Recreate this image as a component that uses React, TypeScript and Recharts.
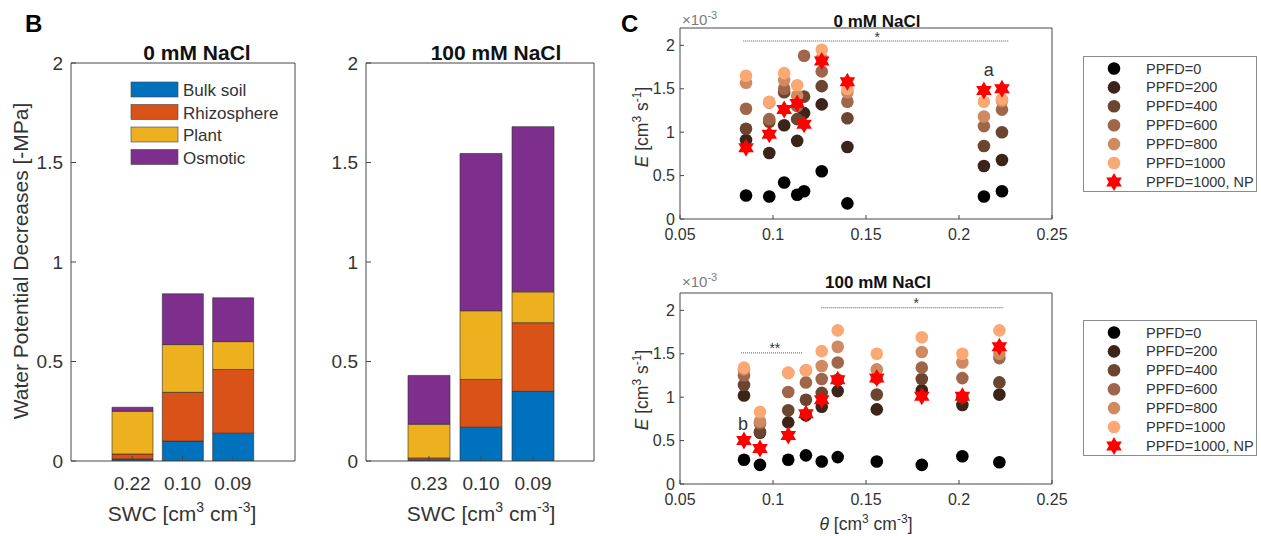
import React from 'react'
import {
  BarChart,
  Bar,
  ScatterChart,
  Scatter,
  XAxis,
  YAxis,
  ReferenceLine,
  ReferenceDot,
} from 'recharts'

const FONT = '"Liberation Sans", Arial, Helvetica, sans-serif'
const AXIS = '#474747'
const TEXT = '#333'
const LINE = { stroke: AXIS, strokeWidth: 1 }

// ---- panel B: water potential decreases [-MPa], stacked by component
const COMPONENTS = ['Bulk soil', 'Rhizosphere', 'Plant', 'Osmotic']
const COMPONENT_KEYS = ['bulk', 'rhizo', 'plant', 'osmotic']
const COMPONENT_COLORS = ['#0072BD', '#D95319', '#EDB120', '#7E2F8E']

const swc0 = ['0.22', '0.10', '0.09']
const bulk0 = [0.01, 0.1, 0.14]
const rhizo0 = [0.025, 0.245, 0.32]
const plant0 = [0.215, 0.24, 0.14]
const osmotic0 = [0.02, 0.255, 0.22]

const swc100 = ['0.23', '0.10', '0.09']
const bulk100 = [0.005, 0.17, 0.35]
const rhizo100 = [0.01, 0.24, 0.345]
const plant100 = [0.17, 0.345, 0.155]
const osmotic100 = [0.245, 0.79, 0.83]

const wpTicks = [0, 0.5, 1, 1.5, 2]

// ---- panel C: transpiration E [x10^-3 cm3 s-1] against theta [cm3 cm-3]
const PPFD_LABELS = ['PPFD=0', 'PPFD=200', 'PPFD=400', 'PPFD=600', 'PPFD=800', 'PPFD=1000', 'PPFD=1000, NP']
const PPFD_COLORS = ['#000000', '#3c2418', '#6c4530', '#a0664a', '#d08a60', '#fba874']
const NP_COLOR = '#ff0000'

const thetaTicks = [0.05, 0.1, 0.15, 0.2, 0.25]
const eTicks = [0, 0.5, 1, 1.5, 2]

// 0 mM NaCl
const theta0 = [0.0855, 0.098, 0.106, 0.113, 0.1167, 0.1262, 0.14, 0.2134, 0.2231]
const e0_0 = [0.27, 0.26, 0.42, 0.28, 0.32, 0.55, 0.18, 0.26, 0.32]
const e0_200 = [0.91, 0.76, 1.08, 0.9, 1.22, 1.32, 0.83, 0.61, 0.68]
const e0_400 = [1.04, 1.12, 1.46, 1.15, 1.41, 1.53, 1.16, 0.84, 1.0]
const e0_600 = [1.27, 1.15, 1.5, 1.3, 1.88, 1.7, 1.35, 1.07, 1.26]
const e0_800 = [1.57, 1.34, 1.6, 1.42, null, 1.85, 1.46, 1.18, 1.36]
const e0_1000 = [1.65, 1.35, 1.68, 1.54, null, 1.95, 1.5, 1.35, 1.38]
const e0_np = [0.82, 0.975, 1.26, 1.33, 1.09, 1.82, 1.58, 1.48, 1.5]

// 100 mM NaCl
const theta100 = [0.0844, 0.093, 0.1082, 0.1177, 0.1262, 0.1348, 0.1558, 0.18, 0.2018, 0.2217]
const e100_0 = [0.28, 0.22, 0.28, 0.33, 0.26, 0.31, 0.26, 0.22, 0.32, 0.25]
const e100_200 = [1.02, 0.59, 0.71, 0.79, 0.89, 1.07, 0.86, 1.08, 0.91, 1.03]
const e100_400 = [1.14, 0.6, 0.85, 0.97, 1.05, 1.2, 1.03, 1.21, 1.0, 1.17]
const e100_600 = [1.25, 0.7, 1.06, 1.17, 1.21, 1.4, 1.22, 1.34, 1.22, 1.45]
const e100_800 = [1.32, 0.72, 1.28, 1.31, 1.36, 1.58, 1.32, 1.52, 1.4, 1.5]
const e100_1000 = [1.34, 0.83, 1.28, 1.31, 1.53, 1.77, 1.5, 1.69, 1.5, 1.77]
const e100_np = [0.5, 0.41, 0.56, 0.81, 0.97, 1.2, 1.22, 1.01, 1.01, 1.58]

// significance bars: [x from, x to, y], labels [x, y, text]
const sig0 = [[0.084, 0.227, 2.05]]
const sigLabels0 = [[0.156, 2.1, '*'], [0.216, 1.72, 'a']]
const sig100 = [[0.0828, 0.1158, 1.51], [0.126, 0.224, 2.03]]
const sigLabels100 = [[0.101, 1.57, '**'], [0.177, 2.09, '*'], [0.0839, 0.7, 'b']]

function rows(swc: string[], bulk: number[], rhizo: number[], plant: number[], osmotic: number[]) {
  return swc.map((s, i) => ({ swc: s, bulk: bulk[i], rhizo: rhizo[i], plant: plant[i], osmotic: osmotic[i] }))
}

function points(theta: number[], e: (number | null)[]) {
  return theta.map((x, i) => ({ x, y: e[i] })).filter((d) => d.y != null)
}

function hexagram(cx: number, cy: number, R: number) {
  const r = R / Math.sqrt(3)
  let d = ''
  for (let k = 0; k < 12; k++) {
    const a = ((-90 + k * 30) * Math.PI) / 180
    const rad = k % 2 === 0 ? R : r
    d += (k ? 'L' : 'M') + (cx + rad * Math.cos(a)).toFixed(2) + ',' + (cy + rad * Math.sin(a)).toFixed(2)
  }
  return d + 'Z'
}

function WaterPotentialBars({ data, left, width, padL, padR, barSize }: any) {
  const tick = { fill: TEXT, fontSize: 19 }
  // top / right axes are 1px wide: they only carry the box line and the inward ticks
  return (
    <div style={{ position: 'absolute', left, top: 0 }}>
      <BarChart width={width} height={536} data={data} margin={{ top: 62, right: 4, bottom: 0, left: 0 }} barSize={barSize}>
        <XAxis dataKey="swc" interval={0} padding={{ left: padL, right: padR }} height={75}
          tickSize={-5} tickMargin={21} stroke={AXIS} axisLine={LINE} tickLine={LINE} tick={tick} />
        <XAxis xAxisId="top" orientation="top" dataKey="swc" interval={0} padding={{ left: padL, right: padR }}
          height={1} tickSize={-5} tick={false} stroke={AXIS} axisLine={LINE} tickLine={LINE} />
        <YAxis domain={[0, 2]} ticks={wpTicks} interval={0} width={71} tickSize={-5} tickMargin={13}
          stroke={AXIS} axisLine={LINE} tickLine={LINE} tick={tick} allowDataOverflow />
        <YAxis yAxisId="right" orientation="right" domain={[0, 2]} ticks={wpTicks} interval={0} width={1}
          tickSize={-5} tick={false} stroke={AXIS} axisLine={LINE} tickLine={LINE} allowDataOverflow />
        {COMPONENT_KEYS.map((k, i) => (
          <Bar key={k} dataKey={k} stackId="wp" fill={COMPONENT_COLORS[i]} stroke="#2a2a2a" strokeWidth={0.6}
            isAnimationActive={false} />
        ))}
      </BarChart>
    </div>
  )
}

function TranspirationScatter({ top, height, plotTop, theta, levels, np, sig, sigLabels }: any) {
  const tick = { fill: TEXT, fontSize: 16 }
  return (
    <div style={{ position: 'absolute', left: 620, top }}>
      <ScatterChart width={460} height={height} margin={{ top: plotTop - 1, right: 27, bottom: 0, left: 0 }}>
        <XAxis type="number" dataKey="x" domain={[0.05, 0.25]} ticks={thetaTicks} interval={0}
          height={height - plotTop - 191} tickSize={-4} tickMargin={14} stroke={AXIS} axisLine={LINE} tickLine={LINE}
          tick={tick} allowDataOverflow />
        <XAxis xAxisId="top" orientation="top" type="number" domain={[0.05, 0.25]} ticks={thetaTicks} interval={0}
          height={1} tickSize={-4} tick={false} stroke={AXIS} axisLine={LINE} tickLine={LINE} allowDataOverflow />
        <YAxis type="number" dataKey="y" domain={[0, 2.2]} ticks={eTicks} interval={0} width={60}
          tickSize={-4} tickMargin={9} stroke={AXIS} axisLine={LINE} tickLine={LINE} tick={tick} allowDataOverflow />
        <YAxis yAxisId="right" orientation="right" type="number" domain={[0, 2.2]} ticks={eTicks} interval={0}
          width={1} tickSize={-4} tick={false} stroke={AXIS} axisLine={LINE} tickLine={LINE} allowDataOverflow />
        {sig.map((s: number[], i: number) => (
          <ReferenceLine key={'s' + i} segment={[{ x: s[0], y: s[2] }, { x: s[1], y: s[2] }]}
            stroke="#555" strokeWidth={1} strokeDasharray="1 1" />
        ))}
        {sigLabels.map((s: any[], i: number) => (
          <ReferenceDot key={'l' + i} x={s[0]} y={s[1]} r={0} fill="none" stroke="none"
            label={{ value: s[2], position: 'center', fill: TEXT, fontSize: s[2] === '*' || s[2] === '**' ? 14 : 18 }} />
        ))}
        {levels.map((e: (number | null)[], i: number) => (
          <Scatter key={PPFD_LABELS[i]} name={PPFD_LABELS[i]} data={points(theta, e)} isAnimationActive={false}
            shape={(p: any) => <circle cx={p.cx} cy={p.cy} r={6.3} fill={PPFD_COLORS[i]} />} />
        ))}
        <Scatter name={PPFD_LABELS[6]} data={points(theta, np)} isAnimationActive={false}
          shape={(p: any) => <path d={hexagram(p.cx, p.cy, 9)} fill={NP_COLOR} />} />
      </ScatterChart>
    </div>
  )
}

function PpfdLegend({ top }: { top: number }) {
  return (
    <g transform={`translate(1083, ${top})`}>
      <rect x={0.5} y={0.5} width={173} height={135} fill="#fff" stroke="#8c8c8c" />
      {PPFD_LABELS.map((lab, i) => {
        const cy = 12.5 + i * 18.9
        return (
          <g key={lab}>
            {i < 6 ? (
              <circle cx={31} cy={cy} r={6.3} fill={PPFD_COLORS[i]} />
            ) : (
              <path d={hexagram(31, cy, 9)} fill={NP_COLOR} />
            )}
            <text x={63} y={cy + 5} fontSize={14.5} fill={TEXT}>{lab}</text>
          </g>
        )
      })}
    </g>
  )
}

function Overlay() {
  return (
    <svg width={1261} height={536} style={{ position: 'absolute', left: 0, top: 0 }}>
      <text x={25} y={32} fontSize={24} fontWeight="bold" fill="#000">B</text>
      <text x={621} y={32} fontSize={24} fontWeight="bold" fill="#000">C</text>

      <text x={197} y={60} fontSize={21} fontWeight="bold" textAnchor="middle" fill="#111">0 mM NaCl</text>
      <text x={496} y={60} fontSize={21} fontWeight="bold" textAnchor="middle" fill="#111">100 mM NaCl</text>

      {COMPONENTS.map((c, i) => (
        <g key={c}>
          <rect x={131} y={82 + i * 22.5} width={47} height={15} fill={COMPONENT_COLORS[i]} stroke="#444" strokeWidth={0.6} />
          <text x={183} y={96 + i * 22.5} fontSize={17} fill={TEXT}>{c}</text>
        </g>
      ))}

      <text transform="translate(28, 261) rotate(-90)" textAnchor="middle" fontSize={21} fill={TEXT}>
        Water Potential Decreases [-MPa]
      </text>
      {[182, 481].map((cx) => (
        <text key={cx} x={cx} y={521} textAnchor="middle" fontSize={21} fill={TEXT}>
          SWC [cm<tspan dy={-9} fontSize={14}>3</tspan><tspan dy={9}> cm</tspan>
          <tspan dy={-9} fontSize={14}>-3</tspan><tspan dy={9}>]</tspan>
        </text>
      ))}

      <text x={877} y={27} fontSize={17} fontWeight="bold" textAnchor="middle" fill="#111">0 mM NaCl</text>
      <text x={878} y={288} fontSize={17} fontWeight="bold" textAnchor="middle" fill="#111">100 mM NaCl</text>
      {[25, 287].map((y) => (
        <text key={y} x={682} y={y} fontSize={15} fill="#7a7a7a">
          ×10<tspan dy={-6} fontSize={11}>-3</tspan>
        </text>
      ))}
      {[127, 390].map((cy) => (
        <text key={cy} transform={`translate(648, ${cy}) rotate(-90)`} textAnchor="middle" fontSize={17.5} fill={TEXT}>
          <tspan fontStyle="italic">E</tspan> [cm<tspan dy={-7} fontSize={12}>3</tspan><tspan dy={7}> s</tspan>
          <tspan dy={-7} fontSize={12}>-1</tspan><tspan dy={7}>]</tspan>
        </text>
      ))}
      <text x={866} y={530} textAnchor="middle" fontSize={17.5} fill={TEXT}>
        <tspan fontStyle="italic">θ</tspan> [cm<tspan dy={-7} fontSize={12}>3</tspan><tspan dy={7}> cm</tspan>
        <tspan dy={-7} fontSize={12}>-3</tspan><tspan dy={7}>]</tspan>
      </text>

      <PpfdLegend top={56} />
      <PpfdLegend top={320} />
    </svg>
  )
}

export default function App() {
  return (
    <div style={{ position: 'absolute', left: 0, top: 0, width: 1261, height: 536, background: '#fff', fontFamily: FONT, overflow: 'hidden' }}>
      <WaterPotentialBars data={rows(swc0, bulk0, rhizo0, plant0, osmotic0)} left={0} width={300} padL={36} padR={37} barSize={41} />
      <WaterPotentialBars data={rows(swc100, bulk100, rhizo100, plant100, osmotic100)} left={295} width={304} padL={37} padR={35} barSize={42} />
      <TranspirationScatter top={0} height={260} plotTop={28} theta={theta0}
        levels={[e0_0, e0_200, e0_400, e0_600, e0_800, e0_1000]} np={e0_np} sig={sig0} sigLabels={sigLabels0} />
      <TranspirationScatter top={260} height={276} plotTop={33} theta={theta100}
        levels={[e100_0, e100_200, e100_400, e100_600, e100_800, e100_1000]} np={e100_np} sig={sig100} sigLabels={sigLabels100} />
      <Overlay />
    </div>
  )
}
